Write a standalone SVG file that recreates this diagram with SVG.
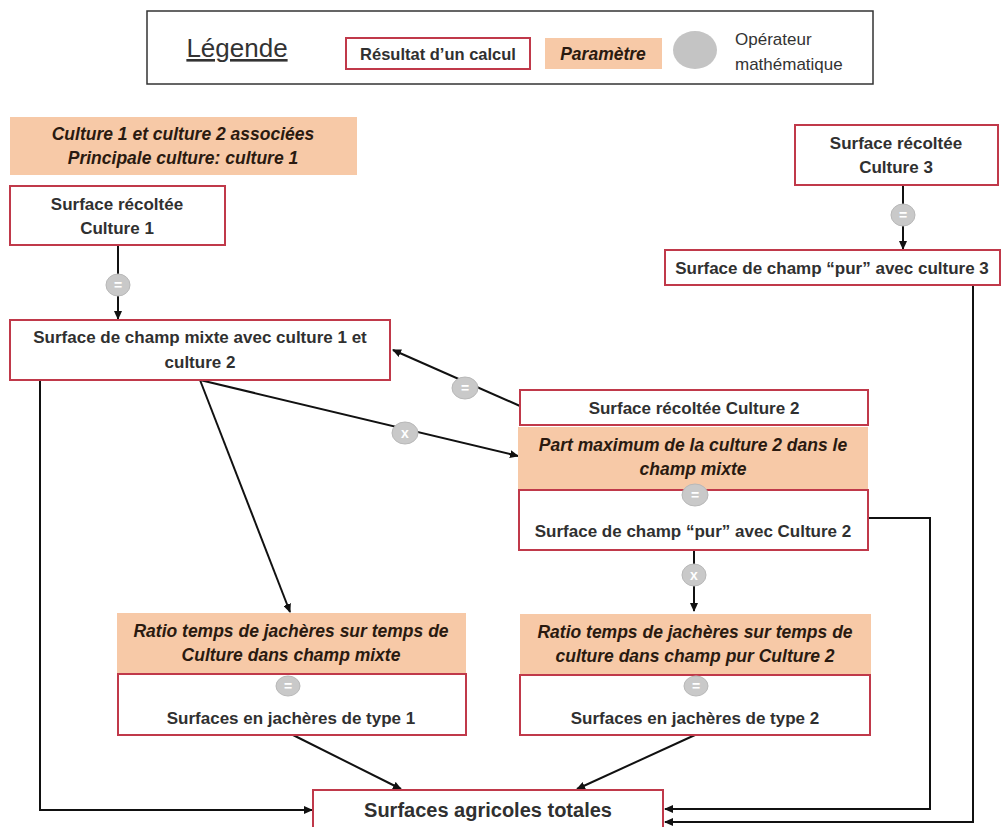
<svg xmlns="http://www.w3.org/2000/svg" width="1004" height="827" viewBox="0 0 1004 827">
<defs>
<marker id="arr" markerWidth="9" markerHeight="8" refX="8" refY="4" orient="auto" markerUnits="userSpaceOnUse">
<path d="M0,0 L9,4 L0,8 z" fill="#111"/>
</marker>
<style>
.res{fill:#fff;stroke:#c0394a;stroke-width:2}
.par{fill:#f7c9a7;stroke:none}
.t{font-family:"Liberation Sans",Arial,sans-serif;font-weight:bold;font-size:17px;fill:#303030;text-anchor:middle}
.ti{font-family:"Liberation Sans",Arial,sans-serif;font-weight:bold;font-style:italic;font-size:17.5px;fill:#2a1a10;text-anchor:middle}
.op{fill:#c9c9c9;stroke:#b8b8b8;stroke-width:1}
.ops{font-family:"Liberation Sans",Arial,sans-serif;font-weight:bold;font-size:14px;fill:#fff;text-anchor:middle}
.c{fill:none;stroke:#111;stroke-width:2}
.lg{font-family:"Liberation Sans",Arial,sans-serif;font-size:17px;fill:#333}
</style>
</defs>
<rect width="1004" height="827" fill="#fff"/>

<g id="legend">
<rect x="147" y="11" width="726" height="73" fill="#fff" stroke="#333" stroke-width="1.5"/>
<text x="237" y="57" class="lg" style="font-size:26px" text-anchor="middle" text-decoration="underline">Légende</text>
<rect x="346" y="38" width="184" height="31" class="res"/>
<text x="438" y="60" class="t" style="font-size:16.5px">Résultat d’un calcul</text>
<rect x="545" y="38" width="117" height="31" class="par"/>
<text x="603" y="60" class="ti" style="font-size:17.5px">Paramètre</text>
<ellipse cx="695" cy="50" rx="22" ry="19" fill="#c4c4c4"/>
<text x="735" y="45" class="lg">Opérateur</text>
<text x="735" y="70" class="lg">mathématique</text>
</g>

<g id="connectors">
<line x1="118" y1="245" x2="118" y2="319" class="c" marker-end="url(#arr)"/>
<line x1="903" y1="185" x2="903" y2="249" class="c" marker-end="url(#arr)"/>
<line x1="520" y1="406" x2="393" y2="350" class="c" marker-end="url(#arr)"/>
<line x1="200" y1="380" x2="518" y2="456" class="c" marker-end="url(#arr)"/>
<line x1="200" y1="380" x2="290" y2="612" class="c" marker-end="url(#arr)"/>
<line x1="694" y1="550" x2="694" y2="611" class="c" marker-end="url(#arr)"/>
<line x1="293" y1="735" x2="401" y2="789" class="c" marker-end="url(#arr)"/>
<line x1="695" y1="735" x2="577" y2="789" class="c" marker-end="url(#arr)"/>
<polyline points="40,380 40,810 312,810" class="c" marker-end="url(#arr)"/>
<polyline points="868,518 930,518 930,809 665,809" class="c" marker-end="url(#arr)"/>
<polyline points="973,285 973,822 665,822" class="c" marker-end="url(#arr)"/>
</g>

<g id="param-culture12">
<rect x="10" y="117" width="347" height="58" class="par"/>
<text x="183" y="140" class="ti">Culture 1 et culture 2 associées</text>
<text x="183" y="164" class="ti">Principale culture: culture 1</text>
</g>

<g id="surf-recoltee-c1">
<rect x="10" y="186" width="215" height="59" class="res"/>
<text x="117" y="210" class="t">Surface récoltée</text>
<text x="117" y="234" class="t">Culture 1</text>
</g>

<g id="op1">
<ellipse cx="118" cy="285" rx="12" ry="11" class="op"/>
<text x="118" y="290" class="ops">=</text>
</g>

<g id="champ-mixte">
<rect x="10" y="320" width="380" height="60" class="res"/>
<text x="200" y="343" class="t">Surface de champ mixte avec culture 1 et</text>
<text x="200" y="368" class="t">culture 2</text>
</g>

<g id="surf-recoltee-c3">
<rect x="795" y="125" width="203" height="60" class="res"/>
<text x="896" y="149" class="t">Surface récoltée</text>
<text x="896" y="173" class="t">Culture 3</text>
</g>

<g id="op3">
<ellipse cx="903" cy="215" rx="12" ry="11" class="op"/>
<text x="903" y="220" class="ops">=</text>
</g>

<g id="champ-pur-c3">
<rect x="665" y="250" width="335" height="35" class="res"/>
<text x="832" y="274" class="t">Surface de champ “pur” avec culture 3</text>
</g>

<g id="op-minus">
<ellipse cx="465" cy="388" rx="13" ry="11" class="op"/>
<text x="465" y="393" class="ops">=</text>
</g>

<g id="op-x1">
<ellipse cx="405" cy="433" rx="13" ry="11" class="op"/>
<text x="405" y="438" class="ops">x</text>
</g>

<g id="surf-recoltee-c2">
<rect x="520" y="390" width="348" height="35" class="res"/>
<text x="694" y="414" class="t">Surface récoltée Culture 2</text>
</g>

<g id="part-max">
<rect x="518" y="427" width="350" height="62" class="par"/>
<text x="693" y="451" class="ti">Part maximum de la culture 2 dans le</text>
<text x="693" y="475" class="ti">champ mixte</text>
</g>

<g id="champ-pur-c2">
<rect x="519" y="490" width="349" height="60" class="res"/>
<text x="693" y="537" class="t">Surface de champ “pur” avec Culture 2</text>
<ellipse cx="695" cy="495" rx="13" ry="11" class="op"/>
<text x="695" y="500" class="ops">=</text>
</g>

<g id="op-x2">
<ellipse cx="694" cy="575" rx="12" ry="11" class="op"/>
<text x="694" y="580" class="ops">x</text>
</g>

<g id="ratio-mixte">
<rect x="117" y="613" width="349" height="60" class="par"/>
<text x="291" y="637" class="ti">Ratio temps de jachères sur temps de</text>
<text x="291" y="661" class="ti">Culture dans champ mixte</text>
</g>

<g id="jachere-1">
<rect x="118" y="674" width="348" height="61" class="res"/>
<ellipse cx="288" cy="686" rx="12" ry="10" class="op"/>
<text x="288" y="691" class="ops">=</text>
<text x="291" y="724" class="t">Surfaces en jachères de type 1</text>
</g>

<g id="ratio-pur">
<rect x="520" y="614" width="351" height="60" class="par"/>
<text x="695" y="638" class="ti">Ratio temps de jachères sur temps de</text>
<text x="695" y="662" class="ti">culture dans champ pur Culture 2</text>
</g>

<g id="jachere-2">
<rect x="520" y="675" width="350" height="60" class="res"/>
<ellipse cx="696" cy="686" rx="12" ry="10" class="op"/>
<text x="696" y="691" class="ops">=</text>
<text x="695" y="724" class="t">Surfaces en jachères de type 2</text>
</g>

<g id="totales">
<rect x="313" y="790" width="350" height="45" class="res"/>
<text x="488" y="817" class="t" style="font-size:20px">Surfaces agricoles totales</text>
</g>
</svg>
